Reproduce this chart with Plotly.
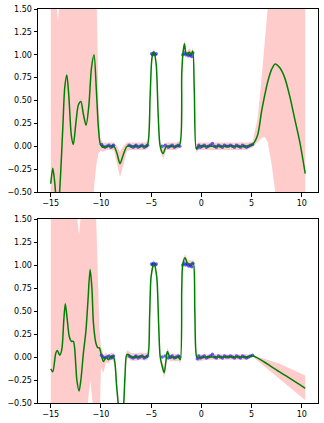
import plotly.graph_objects as go
from plotly.subplots import make_subplots

# training points (same in both panels)
pts_x = [-9.95, -9.8, -9.6, -9.4, -9.2, -9.0, -8.85, -8.75,
         -7.2, -7.0, -6.8, -6.6, -6.5, -6.3, -6.1, -5.9, -5.7, -5.5, -5.35,
         -4.95, -4.85, -4.75, -4.6, -4.5,
         -3.9, -3.6, -3.3, -3.1, -2.9, -2.7, -2.5, -2.3, -2.15,
         -1.85, -1.7, -1.55, -1.4, -1.25, -1.1, -0.95, -0.85,
         -0.4, -0.25, -0.1, 0.1, 0.3, 0.5, 0.7, 0.9, 1.1, 1.3, 1.5, 1.7, 1.9,
         2.1, 2.3, 2.5, 2.7, 2.9, 3.1, 3.3, 3.5, 3.7, 3.9, 4.1, 4.3, 4.5, 4.7, 4.9, 5.1]
pts_y = [0.02, 0.0, -0.01, 0.0, 0.01, -0.01, 0.0, 0.01,
         0.01, 0.0, -0.01, 0.0, 0.01, -0.01, 0.0, 0.01, -0.01, 0.0, 0.01,
         1.01, 1.0, 1.02, 1.0, 1.01,
         0.0, 0.01, -0.01, 0.0, 0.01, -0.01, 0.0, 0.01, 0.0,
         1.0, 1.02, 1.0, 1.01, 0.99, 1.0, 0.98, 1.02,
         -0.02, 0.01, -0.01, 0.0, 0.01, -0.01, 0.0, 0.01, 0.03, 0.0, -0.01, 0.01, 0.0,
         -0.01, 0.01, 0.0, 0.0, 0.01, 0.0, -0.01, 0.01, 0.0, -0.01, 0.01, 0.0, -0.01, 0.0, 0.01, 0.02]

# top panel: prediction mean and confidence band
top_x = [-15.0, -14.8, -14.6, -14.45, -14.28, -14.12, -13.8, -13.6, -13.4, -13.2,
         -12.95, -12.75, -12.5, -12.25, -12.0, -11.75, -11.48, -11.2, -10.95, -10.69,
         -10.45, -10.25, -10.05, -9.8, -9.4, -9.0, -8.7, -8.4, -8.1, -7.8,
         -7.4, -7.0, -6.5, -6.0, -5.6, -5.35, -5.1, -4.9, -4.72, -4.5,
         -4.3, -4.1, -3.8, -3.5, -3.0, -2.5, -2.15, -1.95, -1.82, -1.68,
         -1.55, -1.4, -1.2, -1.0, -0.85, -0.7, -0.5, -0.3, 0.5, 1.5,
         2.5, 3.5, 4.5, 5.1, 5.6, 6.0, 6.3, 6.6, 7.0, 7.35,
         7.8, 8.3, 8.8, 9.3, 9.8, 10.35]
top_mean = [-0.41, -0.24, -0.40, -0.58, -0.66, -0.50, 0.20, 0.65, 0.78, 0.55,
            0.12, 0.02, 0.25, 0.45, 0.49, 0.35, 0.23, 0.45, 0.85, 1.0,
            0.6, 0.2, 0.02, -0.01, 0.0, 0.0, 0.0, -0.08, -0.19, -0.10,
            0.0, 0.0, 0.0, 0.0, 0.0, 0.02, 0.55, 0.98, 1.03, 0.9,
            0.35, 0.0, -0.08, 0.0, 0.0, 0.0, 0.02, 0.8, 1.03, 1.12,
            1.02, 1.0, 1.03, 1.0, 1.04, 0.6, -0.03, 0.0, 0.0, 0.0,
            0.0, 0.0, 0.0, 0.02, 0.12, 0.38, 0.55, 0.7, 0.84, 0.9,
            0.86, 0.75, 0.55, 0.3, 0.05, -0.3]
top_upper = [3.0, 3.0, 3.0, 1.6, 1.36, 1.6, 3.0, 3.0, 3.0, 3.0,
             3.0, 3.0, 3.0, 3.0, 3.0, 3.0, 3.0, 3.0, 3.0, 3.0,
             1.75, 0.5, 0.08, 0.04, 0.04, 0.04, 0.04, 0.0, -0.06, 0.0,
             0.04, 0.04, 0.04, 0.04, 0.04, 0.06, 0.6, 1.02, 1.07, 0.95,
             0.4, 0.05, -0.02, 0.04, 0.04, 0.04, 0.06, 0.85, 1.07, 1.16,
             1.06, 1.04, 1.07, 1.04, 1.08, 0.65, 0.02, 0.04, 0.04, 0.04,
             0.04, 0.04, 0.04, 0.05, 0.3, 0.75, 1.15, 1.55, 2.2, 2.8,
             3.0, 3.0, 3.0, 3.0, 3.0, 3.0]
top_lower = [-3.0, -3.0, -3.0, -3.0, -3.0, -3.0, -3.0, -3.0, -3.0, -3.0,
             -3.0, -3.0, -3.0, -3.0, -3.0, -3.0, -3.0, -3.0, -1.5, -0.45,
             -0.2, -0.08, -0.05, -0.06, -0.04, -0.04, -0.05, -0.2, -0.34, -0.22,
             -0.05, -0.04, -0.04, -0.04, -0.04, -0.03, 0.5, 0.94, 0.99, 0.85,
             0.3, -0.05, -0.14, -0.04, -0.04, -0.04, -0.02, 0.75, 0.99, 1.08,
             0.98, 0.96, 0.99, 0.96, 1.0, 0.55, -0.08, -0.04, -0.04, -0.04,
             -0.04, -0.04, -0.04, -0.01, 0.05, 0.09, 0.1, 0.05, -0.2, -0.5,
             -1.0, -1.5, -2.0, -2.5, -3.0, -3.0]

# bottom panel
bot_x = [-15.0, -14.8, -14.5, -14.35, -14.1, -13.9, -13.7, -13.55, -13.35, -13.15,
         -12.95, -12.75, -12.5, -12.4, -12.18, -12.0, -11.75, -11.5, -11.3, -11.08,
         -10.9, -10.75, -10.5, -10.3, -10.15, -10.0, -9.75, -9.5, -9.25, -8.98,
         -8.75, -8.6, -8.45, -8.25, -8.0, -7.75, -7.6, -7.45, -7.3, -7.0,
         -6.5, -6.0, -5.6, -5.35, -5.15, -5.0, -4.72, -4.45, -4.25, -4.1,
         -3.9, -3.7, -3.5, -3.38, -3.1, -2.85, -2.5, -2.3, -2.1, -1.95,
         -1.85, -1.62, -1.4, -1.2, -0.96, -0.8, -0.65, -0.46, -0.3, 0.5,
         1.5, 2.5, 3.5, 4.5, 5.15, 7.75, 10.35]
bot_mean = [-0.13, -0.16, 0.04, 0.07, 0.02, 0.08, 0.4, 0.58, 0.4, 0.22,
            0.17, 0.17, -0.1, -0.25, -0.37, -0.25, 0.04, 0.28, 0.6, 0.95,
            0.75, 0.37, 0.15, 0.1, 0.1, 0.04, -0.05, 0.0, -0.03, 0.01,
            0.0, -0.07, -0.3, -0.55, -0.9, -0.55, -0.2, 0.02, 0.03, 0.0,
            0.0, 0.01, 0.0, 0.01, 0.45, 0.88, 1.02, 0.88, 0.35, 0.0,
            -0.1, -0.17, -0.02, 0.06, -0.01, 0.0, -0.01, 0.0, -0.03, 0.75,
            1.01, 1.08, 1.02, 1.01, 1.01, 1.02, 0.5, 0.0, -0.01, 0.0,
            0.0, 0.0, 0.0, 0.0, 0.01, -0.16, -0.34]
bot_upper = [3.0, 3.0, 3.0, 3.0, 3.0, 3.0, 3.0, 3.0, 3.0, 3.0,
             3.0, 3.0, 3.0, 1.55, 1.33, 1.55, 3.0, 3.0, 3.0, 3.0,
             3.0, 3.0, 1.6, 0.8, 0.3, 0.12, 0.02, 0.05, 0.02, 0.05,
             0.04, 0.0, -0.22, -0.47, -0.82, -0.47, -0.13, 0.07, 0.07, 0.04,
             0.04, 0.05, 0.04, 0.05, 0.5, 0.92, 1.06, 0.92, 0.4, 0.05,
             -0.05, -0.11, 0.03, 0.1, 0.03, 0.04, 0.03, 0.04, 0.01, 0.8,
             1.05, 1.12, 1.06, 1.05, 1.05, 1.06, 0.55, 0.04, 0.03, 0.03,
             0.03, 0.03, 0.03, 0.03, 0.02, -0.07, -0.2]
bot_lower = [-3.0, -3.0, -3.0, -3.0, -3.0, -3.0, -3.0, -3.0, -3.0, -3.0,
             -3.0, -3.0, -3.0, -3.0, -3.0, -3.0, -3.0, -3.0, -0.5, -0.25,
             -0.42, -0.6, -1.5, -1.2, -0.8, -0.12, -0.17, -0.06, -0.07, -0.03,
             -0.04, -0.14, -0.38, -0.63, -0.98, -0.63, -0.27, -0.03, -0.01, -0.04,
             -0.04, -0.03, -0.04, -0.03, 0.4, 0.84, 0.98, 0.84, 0.3, -0.05,
             -0.15, -0.23, -0.07, 0.02, -0.05, -0.04, -0.05, -0.04, -0.07, 0.7,
             0.97, 1.04, 0.98, 0.97, 0.97, 0.98, 0.45, -0.04, -0.05, -0.03,
             -0.03, -0.03, -0.03, -0.03, 0.0, -0.24, -0.47]

panels = [
    (top_x, top_mean, top_upper, top_lower),
    (bot_x, bot_mean, bot_upper, bot_lower),
]

fig = make_subplots(rows=2, cols=1)

for row, (xs, mean, upper, lower) in enumerate(panels, start=1):
    fig.add_trace(go.Scatter(
        x=xs, y=upper, mode="lines", line=dict(width=0),
        hoverinfo="skip", showlegend=False,
    ), row=row, col=1)
    fig.add_trace(go.Scatter(
        x=xs, y=lower, mode="lines", fill="tonexty",
        fillcolor="rgba(255,0,0,0.2)", line=dict(width=0),
        hoverinfo="skip", showlegend=False,
    ), row=row, col=1)
    fig.add_trace(go.Scatter(
        x=pts_x, y=pts_y, mode="markers",
        marker=dict(color="blue", size=3.5, opacity=0.6),
        showlegend=False,
    ), row=row, col=1)
    fig.add_trace(go.Scatter(
        x=xs, y=mean, mode="lines",
        line=dict(color="green", width=1.5, shape="spline", smoothing=0.8),
        showlegend=False,
    ), row=row, col=1)

axis_style = dict(
    showgrid=False, zeroline=False, automargin=False,
    showline=True, mirror=True, linecolor="black", linewidth=1,
    ticks="outside", ticklen=3.5, tickcolor="black", tickwidth=1,
    tickfont=dict(family="DejaVu Sans", size=8, color="black"),
)
fig.update_xaxes(
    range=[-16.27, 11.62], tickvals=[-15, -10, -5, 0, 5, 10],
    ticktext=["\u221215", "\u221210", "\u22125", "0", "5", "10"],
    **axis_style,
)
yticks = [-0.5, -0.25, 0, 0.25, 0.5, 0.75, 1.0, 1.25, 1.5]
fig.update_yaxes(
    range=[-0.5, 1.5], tickvals=yticks,
    ticktext=[f"{v:.2f}".replace("-", "\u2212") for v in yticks],
    **axis_style,
)
fig.update_yaxes(domain=[0.5355, 1.0], row=1, col=1)
fig.update_yaxes(domain=[0.0, 0.467], row=2, col=1)

fig.update_layout(
    width=324, height=423,
    margin=dict(l=38, r=6, t=9, b=20),
    paper_bgcolor="white", plot_bgcolor="white",
    showlegend=False,
)

# drop the default page margin so the figure sits at the window corner
fig.write_html(
    "out.html",
    config={"displayModeBar": False},
    post_script="document.body.style.margin='0';",
)
